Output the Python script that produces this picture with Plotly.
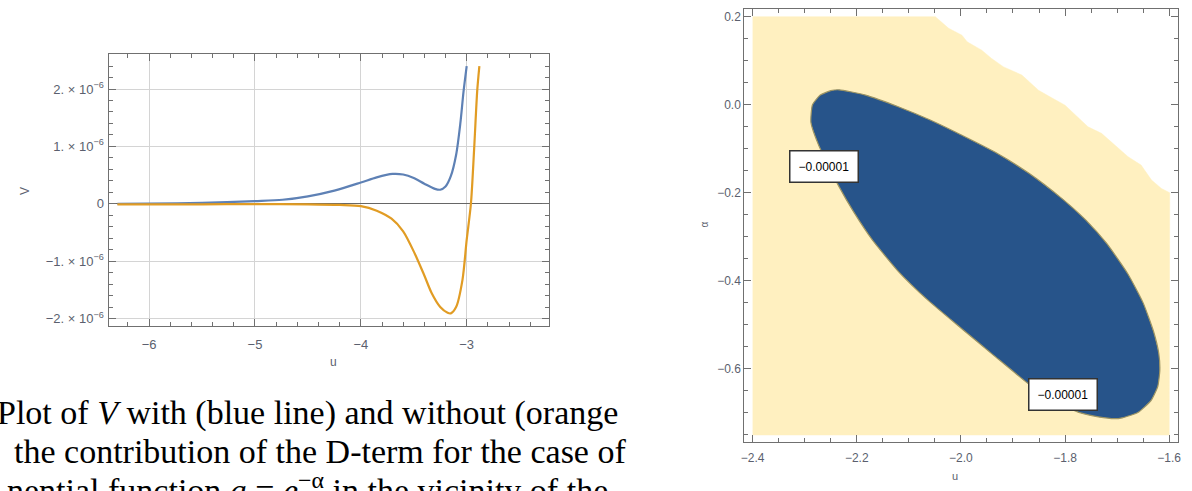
import plotly.graph_objects as go

W, H = 1192, 491

# ---------------- Left panel data (V in units of 1e-6) ----------------
u_blue = [-6.30, -6.0, -5.5, -5.0, -4.74, -4.5, -4.25, -4.0, -3.85, -3.7, -3.6, -3.5,
          -3.4, -3.3, -3.25, -3.2, -3.15, -3.1, -3.06, -3.03, -3.0]
V_blue = [0.0, 0.003, 0.015, 0.047, 0.07, 0.13, 0.23, 0.37, 0.46, 0.52, 0.51, 0.45,
          0.35, 0.26, 0.245, 0.30, 0.48, 0.85, 1.40, 1.95, 2.40]

u_orange = [-6.30, -5.5, -5.0, -4.5, -4.2, -4.0, -3.85, -3.71, -3.6, -3.49, -3.4, -3.33,
            -3.25, -3.18, -3.15, -3.1, -3.04, -3.0, -2.96, -2.93, -2.90, -2.88]
V_orange = [-0.01, -0.01, -0.005, -0.01, -0.02, -0.04, -0.12, -0.26, -0.48, -0.87, -1.25,
            -1.56, -1.80, -1.90, -1.91, -1.80, -1.33, -0.63, 0.0, 0.94, 1.98, 2.40]

left_ytick_vals = [-2, -1, 0, 1, 2]
left_ytick_text = ["−2. × 10<sup>−6</sup>", "−1. × 10<sup>−6</sup>", "0",
                   "1. × 10<sup>−6</sup>", "2. × 10<sup>−6</sup>"]

# ---------------- Right panel data ----------------
box_u = [-2.4, -1.6]
box_alpha = [-0.75, 0.2]

edge_u = [-1.599, -1.615, -1.634, -1.654, -1.679, -1.708, -1.730, -1.756, -1.781, -1.800,
          -1.829, -1.851, -1.883, -1.918, -1.941, -1.960, -1.988, -1.998, -2.0235, -2.049]
edge_alpha = [-0.200, -0.190, -0.171, -0.137, -0.118, -0.088, -0.065, -0.050, -0.023, -0.001,
              0.018, 0.033, 0.0675, 0.086, 0.105, 0.124, 0.143, 0.158, 0.1736, 0.200]

ell_u = [-2.288, -2.285, -2.270, -2.250, -2.234, -2.183, -2.119, -2.06, -2.0, -1.934,
         -1.870, -1.807, -1.760, -1.720, -1.679, -1.650, -1.630, -1.620, -1.618, -1.622,
         -1.635, -1.660, -1.690, -1.705, -1.736, -1.770, -1.820, -1.870, -1.934, -2.0,
         -2.065, -2.119, -2.170, -2.205, -2.234, -2.272]
ell_alpha = [-0.040, 0.000, 0.022, 0.032, 0.034, 0.022, -0.005, -0.034, -0.068, -0.108,
             -0.155, -0.212, -0.262, -0.315, -0.385, -0.450, -0.515, -0.565, -0.603, -0.640,
             -0.672, -0.699, -0.711, -0.713, -0.709, -0.700, -0.675, -0.634, -0.572, -0.507,
             -0.442, -0.380, -0.307, -0.245, -0.186, -0.095]

contour_label = "−0.00001"
label_pos_u = [-2.262, -1.803]
label_pos_alpha = [-0.141, -0.657]

# ---------------- Figure ----------------
fig = go.Figure()

fig.add_trace(go.Scatter(x=u_blue, y=V_blue, mode="lines",
                         line=dict(color="#5E81B5", width=2.2, shape="spline", smoothing=0.8),
                         xaxis="x", yaxis="y", hoverinfo="skip"))
fig.add_trace(go.Scatter(x=u_orange, y=V_orange, mode="lines",
                         line=dict(color="#E19C24", width=2.2, shape="spline", smoothing=0.8),
                         xaxis="x", yaxis="y", hoverinfo="skip"))

# yellow region: rectangle minus the white upper-right corner
yu = [box_u[0], box_u[1]] + edge_u + [box_u[0]]
ya = [box_alpha[0], box_alpha[0]] + edge_alpha + [box_alpha[1]]
fig.add_trace(go.Scatter(x=yu, y=ya, mode="lines", fill="toself", fillcolor="#FFF0C0",
                         line=dict(color="#FFF0C0", width=0.5), xaxis="x2", yaxis="y2", hoverinfo="skip"))
fig.add_trace(go.Scatter(x=ell_u + [ell_u[0]], y=ell_alpha + [ell_alpha[0]], mode="lines", fill="toself",
                         fillcolor="#27548A", line=dict(color="#9C9464", width=1.2, shape="spline", smoothing=0.5),
                         xaxis="x2", yaxis="y2", hoverinfo="skip"))

frame = "#707070"
tickfont_l = dict(family="Liberation Sans, Arial", size=13, color="#5b5f6e")
tickfont_r = dict(family="Liberation Sans, Arial", size=12, color="#5b5f6e")
common = dict(showline=True, linecolor=frame, linewidth=1, mirror="allticks", ticks="inside",
              tickcolor=frame, ticklen=7, tickwidth=1, zeroline=False)

fig.update_layout(
    width=W, height=H, autosize=False,
    margin=dict(l=0, r=0, t=0, b=0),
    paper_bgcolor="white", plot_bgcolor="rgba(0,0,0,0)",
    showlegend=False,
    xaxis=dict(domain=[107 / W, 549 / W], range=[-6.375, -2.22], anchor="y",
               tickmode="linear", tick0=0, dtick=1, showgrid=True, gridcolor="#d4d4d4",
               ticklabelstandoff=6, tickfont=tickfont_l,
               minor=dict(tickmode="linear", tick0=0, dtick=0.2, ticks="inside", ticklen=4, tickcolor=frame),
               **common),
    yaxis=dict(domain=[1 - 326 / H, 1 - 54 / H], range=[-2.13, 2.61], anchor="x",
               tickmode="array", tickvals=left_ytick_vals, ticktext=left_ytick_text,
               showgrid=True, gridcolor="#d4d4d4", tickfont=tickfont_l, ticklabelstandoff=2,
               minor=dict(tickmode="linear", tick0=0, dtick=0.2, ticks="inside", ticklen=4, tickcolor=frame),
               **common),
    xaxis2=dict(domain=[745 / W, 1181 / W], range=[-2.416, -1.583], anchor="y2",
                tickmode="linear", tick0=0, dtick=0.2, tickformat=".1f", showgrid=False,
                ticklabelstandoff=5, tickfont=tickfont_r,
                minor=dict(tickmode="linear", tick0=0, dtick=0.05, ticks="inside", ticklen=4, tickcolor=frame),
                **common),
    yaxis2=dict(domain=[1 - 442 / H, 1 - 9 / H], range=[-0.766, 0.2175], anchor="x2",
                tickmode="linear", tick0=0, dtick=0.2, tickformat=".1f", showgrid=False,
                tickfont=tickfont_r,
                minor=dict(tickmode="linear", tick0=0, dtick=0.05, ticks="inside", ticklen=4, tickcolor=frame),
                **common),
)
fig.update_layout(yaxis=dict(zeroline=True, zerolinecolor="#666666", zerolinewidth=1))

ann = []
axfont = dict(family="Liberation Sans, Arial", size=12, color="#5b5f6e")
ann.append(dict(x=13 / W, y=1 - 191 / H, xref="paper", yref="paper", text="V", showarrow=False,
                textangle=-90, font=axfont))
ann.append(dict(x=327 / W, y=1 - 371 / H, xref="paper", yref="paper", text="u", showarrow=False, font=axfont))
ann.append(dict(x=705 / W, y=1 - 224 / H, xref="paper", yref="paper", text="α", showarrow=False,
                textangle=-90, font=dict(family="Liberation Sans, Arial", size=10, color="#5b5f6e")))
ann.append(dict(x=962 / W, y=1 - 484 / H, xref="paper", yref="paper", text="u", showarrow=False,
                font=dict(family="Liberation Sans, Arial", size=11, color="#5b5f6e")))

for lu, la in zip(label_pos_u, label_pos_alpha):
    ann.append(dict(x=lu, y=la, xref="x2", yref="y2", text=contour_label, showarrow=False,
                    bgcolor="white", bordercolor="#333333", borderwidth=1.5, borderpad=8,
                    font=dict(family="Liberation Sans, Arial", size=12, color="black")))

capfont = dict(family="Liberation Serif, Times New Roman, serif", size=34, color="black")
caption = [
    (-8, 413, "Plot of <i>V</i> with (blue line) and without (orange"),
    (9, 451, "the contribution of the D-term for the case of"),
    (2, 488, "nential function <i>a</i> = <i>e</i><sup>−α</sup> in the vicinity of the"),
]
for px, py, t in caption:
    ann.append(dict(x=px / W, y=1 - py / H, xref="paper", yref="paper", xanchor="left", yanchor="middle",
                    text=t, showarrow=False, font=capfont))

fig.update_layout(annotations=ann)
fig.write_html("out.html")
